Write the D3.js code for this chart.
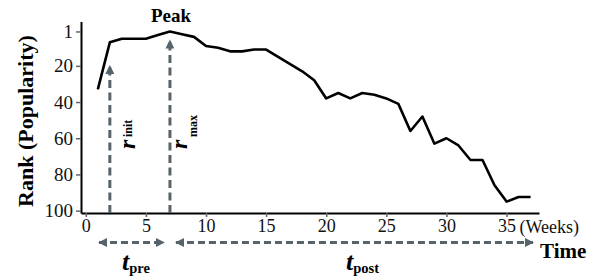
<!DOCTYPE html>
<html>
<head>
<meta charset="utf-8">
<script src="https://cdn.jsdelivr.net/npm/d3@7"></script>
<style>
  body { margin: 0; background: #fff; }
  svg { display: block; }
  svg text { font-family: "Liberation Serif", "Times New Roman", serif; }
</style>
</head>
<body>
<div id="vis"></div>
<script>
// chart data
const weeks = d3.range(1, 38);
const ranks = [33, 7, 5, 5, 5, 3, 1, 2.5, 4, 9, 10, 12, 12, 11, 11, 15, 19, 23, 28, 38,
               35, 38, 35, 36, 38, 41, 56, 48, 63, 60, 64, 72, 72, 86, 95, 92.5, 92.5];
const xTicks = [0, 5, 10, 15, 20, 25, 30, 35];
const yTicks = [1, 20, 40, 60, 80, 100];

// annotation positions (week / rank)
const initWeek = 2, initTip = 20;
const peakWeek = 7, peakTip = 6;
const preSpan = [1.1, 6.5];
const postSpan = [7.5, 37.2];

const FRAME_WIDTH = 602;
const FRAME_HEIGHT = 277;
const ARROW = "#57636b";

const svg = d3.select("#vis")
  .append("svg")
    .attr("width", FRAME_WIDTH)
    .attr("height", FRAME_HEIGHT);

const X = d3.scaleLinear().domain([-0.4, 37.7]).range([81, 539]);
const Y = d3.scaleLinear().domain([-4.5, 101.3]).range([21.5, 213]);

// arrow heads
const defs = svg.append("defs");
defs.append("marker")
    .attr("id", "head")
    .attr("viewBox", "0 0 10 10")
    .attr("refX", 9).attr("refY", 5)
    .attr("markerWidth", 3.2).attr("markerHeight", 3)
    .attr("markerUnits", "strokeWidth")
    .attr("orient", "auto-start-reverse")
  .append("path")
    .attr("d", "M0,0 L10,5 L0,10 Z")
    .attr("fill", ARROW);

// y axis
const yAxis = svg.append("g")
  .attr("transform", "translate(81,0)")
  .call(d3.axisLeft(Y).tickValues(yTicks).tickSize(5).tickPadding(3).tickSizeOuter(0))
  .attr("font-family", null);
yAxis.select(".domain").attr("stroke", "#000").attr("stroke-width", 2);
yAxis.selectAll(".tick line").attr("stroke", "#666").attr("stroke-width", 1.5);
yAxis.selectAll("text").attr("font-size", 19).attr("fill", "#111");

// x axis
const xAxis = svg.append("g")
  .attr("transform", "translate(0,213)")
  .call(d3.axisBottom(X).tickValues(xTicks).tickSize(4).tickPadding(2).tickSizeOuter(0))
  .attr("font-family", null);
xAxis.select(".domain").attr("stroke", "#000").attr("stroke-width", 2);
xAxis.selectAll(".tick line").attr("stroke", "#666").attr("stroke-width", 1.5);
xAxis.selectAll("text").attr("font-size", 18).attr("fill", "#111");

svg.append("text")
  .attr("x", X(35) + 13).attr("y", 232.5)
  .attr("font-size", 18).attr("fill", "#111")
  .text("(Weeks)");

// rank line
const line = d3.line()
  .x((d, i) => X(weeks[i]))
  .y(d => Y(d));

svg.append("path")
  .datum(ranks)
  .attr("d", line)
  .attr("fill", "none")
  .attr("stroke", "#000")
  .attr("stroke-width", 2.6)
  .attr("stroke-linejoin", "round");

// vertical dashed arrows
[[initWeek, initTip], [peakWeek, peakTip]].forEach(([w, r]) => {
  svg.append("line")
    .attr("x1", X(w)).attr("x2", X(w))
    .attr("y1", Y(101.3)).attr("y2", Y(r))
    .attr("stroke", ARROW)
    .attr("stroke-width", 3)
    .attr("stroke-dasharray", "8,4.5")
    .attr("marker-end", "url(#head)");
});

// horizontal double arrows
[preSpan, postSpan].forEach(s => {
  svg.append("line")
    .attr("x1", X(s[0])).attr("x2", X(s[1]))
    .attr("y1", 242.5).attr("y2", 242.5)
    .attr("stroke", ARROW)
    .attr("stroke-width", 3)
    .attr("stroke-dasharray", "7,4")
    .attr("marker-start", "url(#head)")
    .attr("marker-end", "url(#head)");
});

// rotated r labels
function rLabel(xr, sub, xs) {
  svg.append("text")
    .attr("transform", "translate(" + xr + ",149) rotate(-90)")
    .attr("font-size", 24).attr("font-weight", "bold").attr("font-style", "italic")
    .text("r");
  svg.append("text")
    .attr("transform", "translate(" + xs + ",137) rotate(-90)")
    .attr("font-size", 12).attr("font-weight", "bold")
    .text(sub);
}
rLabel(X(initWeek) + 25, "init", X(initWeek) + 22);
rLabel(X(peakWeek) + 17, "max", X(peakWeek) + 27);

// t labels
function tLabel(xt, sub) {
  const t = svg.append("text").attr("x", xt).attr("y", 269.5);
  t.append("tspan")
    .attr("font-size", 26).attr("font-weight", "bold").attr("font-style", "italic")
    .text("t");
  t.append("tspan")
    .attr("font-size", 14.5).attr("font-weight", "bold").attr("dy", 3)
    .text(sub);
}
tLabel(122, "pre");
tLabel(346, "post");

// titles
svg.append("text")
  .attr("x", X(peakWeek) + 1).attr("y", 21.5)
  .attr("text-anchor", "middle")
  .attr("font-size", 19).attr("font-weight", "bold")
  .text("Peak");

svg.append("text")
  .attr("x", 540).attr("y", 258)
  .attr("font-size", 21).attr("font-weight", "bold")
  .text("Time");

svg.append("text")
  .attr("transform", "translate(33," + (31.5 + 210.5) / 2 + ") rotate(-90)")
  .attr("text-anchor", "middle")
  .attr("font-size", 22).attr("font-weight", "bold")
  .text("Rank (Popularity)");
</script>
</body>
</html>
